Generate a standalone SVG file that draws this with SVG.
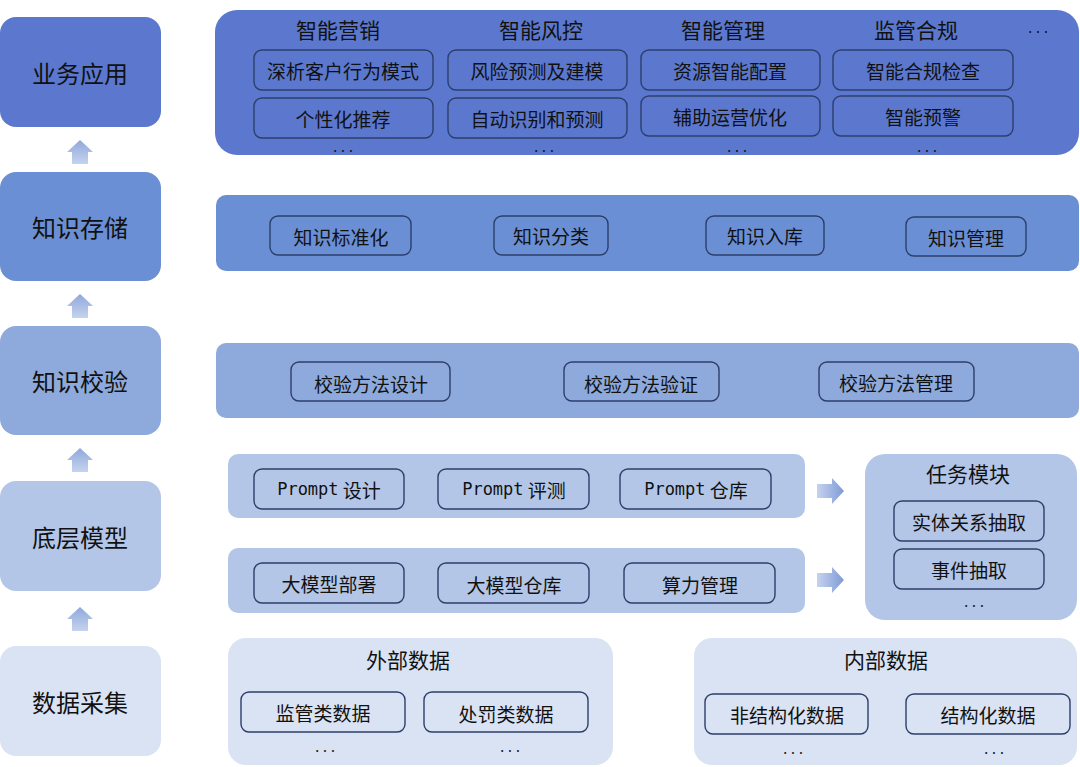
<svg xmlns="http://www.w3.org/2000/svg" width="1080" height="767" viewBox="0 0 1080 767">
<defs>
<style>
text{font-family:"Noto Sans CJK SC","Noto Sans",sans-serif;fill:#111;text-anchor:middle;dominant-baseline:central}
.l{font-size:24px}.h{font-size:21px}.s{font-size:19px}.d{font-size:14px;letter-spacing:4px}
.b{fill:none;stroke:#2c3f6b;stroke-width:1.4}
.m{font-family:"DejaVu Sans Mono","Noto Sans CJK SC",monospace}
</style>
<linearGradient id="gu" x1="0" y1="1" x2="0" y2="0"><stop offset="0" stop-color="#c5d3ee"/><stop offset="1" stop-color="#8fa8dc"/></linearGradient>
<linearGradient id="gr" x1="0" y1="0" x2="1" y2="0"><stop offset="0" stop-color="#c5d3ee"/><stop offset="1" stop-color="#7e9ad6"/></linearGradient>
<path id="au" d="M-8,0 L-8,-12 L-13,-12 L0,-24 L13,-12 L8,-12 L8,0Z" fill="url(#gu)"/>
<path id="ar" d="M0,-7 L15,-7 L15,-13 L27,0 L15,13 L15,7 L0,7Z" fill="url(#gr)"/>
</defs>
<rect width="1080" height="767" fill="#fff"/>
<g id="left">
<g id="n-app"><rect x="0" y="17" width="161" height="110" rx="16" fill="#5b78ce"/><text class="l" x="80" y="72">业务应用</text></g>
<g id="n-store"><rect x="0" y="172" width="161" height="109" rx="16" fill="#6b8fd4"/><text class="l" x="80" y="226">知识存储</text></g>
<g id="n-check"><rect x="0" y="326" width="161" height="109" rx="16" fill="#8eaadc"/><text class="l" x="80" y="380">知识校验</text></g>
<g id="n-model"><rect x="0" y="481" width="161" height="110" rx="16" fill="#b4c6e7"/><text class="l" x="80" y="536">底层模型</text></g>
<g id="n-data"><rect x="0" y="646" width="161" height="110" rx="16" fill="#dae3f3"/><text class="l" x="80" y="701">数据采集</text></g>
</g>
<g id="connectors">
<use href="#au" x="80" y="164"/><use href="#au" x="80" y="318"/><use href="#au" x="80" y="472"/><use href="#au" x="80" y="631"/>
<use href="#ar" x="817" y="491"/><use href="#ar" x="817" y="580"/>
</g>
<g id="p-app">
<rect x="215" y="10" width="864" height="145" rx="22" fill="#5b78ce"/>
<text class="h" x="338" y="29">智能营销</text><text class="h" x="541" y="29">智能风控</text><text class="h" x="723" y="29">智能管理</text><text class="h" x="916" y="29">监管合规</text><text class="d" x="1040" y="27">...</text>
<rect class="b" x="254" y="50" width="179" height="40" rx="8"/><text class="s" x="343" y="70">深析客户行为模式</text>
<rect class="b" x="254" y="98" width="179" height="40" rx="8"/><text class="s" x="343" y="118">个性化推荐</text>
<rect class="b" x="448" y="50" width="179" height="40" rx="8"/><text class="s" x="537" y="70">风险预测及建模</text>
<rect class="b" x="448" y="98" width="179" height="40" rx="8"/><text class="s" x="537" y="118">自动识别和预测</text>
<rect class="b" x="641" y="50" width="179" height="40" rx="8"/><text class="s" x="730" y="70">资源智能配置</text>
<rect class="b" x="641" y="96" width="179" height="40" rx="8"/><text class="s" x="730" y="116">辅助运营优化</text>
<rect class="b" x="833" y="50" width="180" height="40" rx="8"/><text class="s" x="923" y="70">智能合规检查</text>
<rect class="b" x="833" y="96" width="180" height="40" rx="8"/><text class="s" x="923" y="116">智能预警</text>
<text class="d" x="345" y="146">...</text><text class="d" x="546" y="146">...</text><text class="d" x="739" y="146">...</text><text class="d" x="929" y="146">...</text>
</g>
<g id="p-store">
<rect x="216" y="195" width="863" height="76" rx="10" fill="#6b8fd4"/>
<rect class="b" x="270" y="216" width="141" height="39" rx="8"/><text class="s" x="341" y="236">知识标准化</text>
<rect class="b" x="494" y="216" width="114" height="39" rx="8"/><text class="s" x="551" y="235">知识分类</text>
<rect class="b" x="706" y="216" width="118" height="39" rx="8"/><text class="s" x="765" y="235">知识入库</text>
<rect class="b" x="906" y="217" width="120" height="39" rx="8"/><text class="s" x="966" y="237">知识管理</text>
</g>
<g id="p-check">
<rect x="216" y="343" width="863" height="75" rx="10" fill="#8eaadc"/>
<rect class="b" x="291" y="362" width="159" height="39" rx="8"/><text class="s" x="371" y="383">校验方法设计</text>
<rect class="b" x="564" y="362" width="155" height="39" rx="8"/><text class="s" x="641" y="383">校验方法验证</text>
<rect class="b" x="819" y="362" width="155" height="39" rx="8"/><text class="s" x="896" y="382">校验方法管理</text>
</g>
<g id="p-prompt">
<rect x="228" y="454" width="577" height="64" rx="10" fill="#b4c6e7"/>
<rect class="b" x="254" y="469" width="150" height="40" rx="8"/><text class="s" x="329" y="489"><tspan class="m" font-size="17">Prompt</tspan> 设计</text>
<rect class="b" x="438" y="469" width="151" height="40" rx="8"/><text class="s" x="514" y="489"><tspan class="m" font-size="17">Prompt</tspan> 评测</text>
<rect class="b" x="620" y="469" width="151" height="40" rx="8"/><text class="s" x="696" y="489"><tspan class="m" font-size="17">Prompt</tspan> 仓库</text>
</g>
<g id="p-llm">
<rect x="228" y="548" width="577" height="65" rx="10" fill="#b4c6e7"/>
<rect class="b" x="254" y="563" width="150" height="40" rx="8"/><text class="s" x="329" y="583">大模型部署</text>
<rect class="b" x="438" y="563" width="151" height="40" rx="8"/><text class="s" x="514" y="584">大模型仓库</text>
<rect class="b" x="624" y="563" width="151" height="40" rx="8"/><text class="s" x="700" y="584">算力管理</text>
</g>
<g id="p-task">
<rect x="865" y="454" width="212" height="166" rx="20" fill="#b4c6e7"/>
<text class="h" x="968" y="473">任务模块</text>
<rect class="b" x="894" y="501" width="150" height="40" rx="8"/><text class="s" x="969" y="521">实体关系抽取</text>
<rect class="b" x="894" y="549" width="150" height="40" rx="8"/><text class="s" x="969" y="569">事件抽取</text>
<text class="d" x="976" y="601">...</text>
</g>
<g id="p-ext">
<rect x="228" y="638" width="385" height="127" rx="18" fill="#dae3f3"/>
<text class="h" x="408" y="659">外部数据</text>
<rect class="b" x="241" y="692" width="164" height="40" rx="8"/><text class="s" x="323" y="712">监管类数据</text>
<rect class="b" x="424" y="692" width="164" height="40" rx="8"/><text class="s" x="506" y="713">处罚类数据</text>
<text class="d" x="327" y="746">...</text><text class="d" x="512" y="746">...</text>
</g>
<g id="p-int">
<rect x="694" y="638" width="383" height="127" rx="18" fill="#dae3f3"/>
<text class="h" x="886" y="659">内部数据</text>
<rect class="b" x="705" y="694" width="163" height="40" rx="8"/><text class="s" x="787" y="714">非结构化数据</text>
<rect class="b" x="906" y="694" width="164" height="40" rx="8"/><text class="s" x="988" y="714">结构化数据</text>
<text class="d" x="795" y="748">...</text><text class="d" x="996" y="748">...</text>
</g>
</svg>
